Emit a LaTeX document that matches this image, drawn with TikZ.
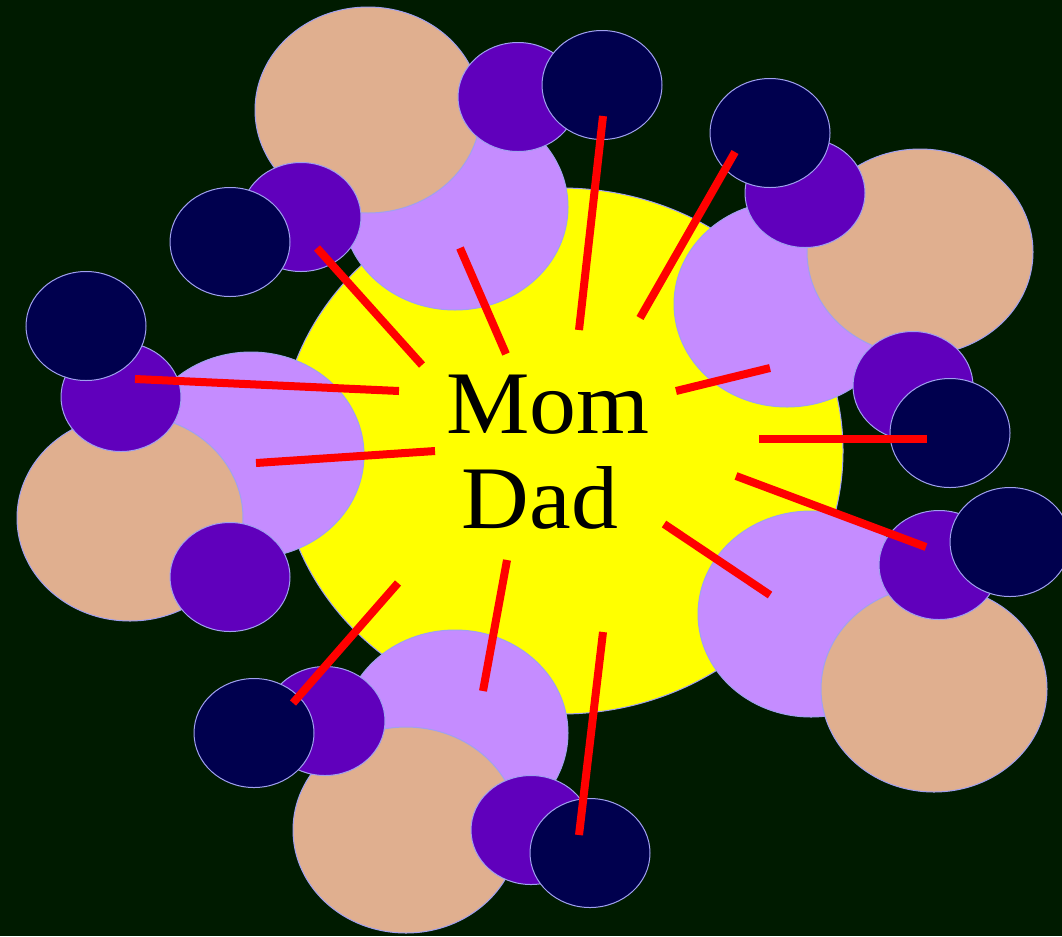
\documentclass[tikz,border=0pt]{standalone}
\usepackage{fontspec}
\setmainfont{Liberation Serif}
\definecolor{bgc}{RGB}{0,27,0}
\definecolor{sun}{RGB}{255,255,0}
\definecolor{lilac}{RGB}{197,140,255}
\definecolor{tanc}{RGB}{224,175,143}
\definecolor{purp}{RGB}{96,0,188}
\definecolor{navyc}{RGB}{0,0,78}
\definecolor{rim}{RGB}{160,160,240}
\definecolor{ray}{RGB}{255,0,0}
\tikzset{
  blob/.style={draw=rim, line width=0.75pt},
  raystroke/.style={draw=ray, line width=6pt},
  bigtxt/.style={font=\fontsize{67}{67}\selectfont, text=black, inner sep=0pt, xscale=1.05}
}
\newcommand{\bigE}[3]{\path[blob, fill=#1] (#2,#3) ellipse [x radius=113, y radius=103];}
\newcommand{\smE}[3]{\path[blob, fill=#1] (#2,#3) ellipse [x radius=60, y radius=54.5];}
\begin{document}
\begin{tikzpicture}[x=0.75pt, y=-0.75pt]
\useasboundingbox (0,0) rectangle (1062,936);
\fill[bgc] (0,0) rectangle (1062,936);
% central sun
\path[blob, fill=sun] (561,451) ellipse [x radius=282, y radius=263];
% lilac circles
\bigE{lilac}{455}{207}
\bigE{lilac}{251}{455}
\bigE{lilac}{787}{304}
\bigE{lilac}{811}{614}
\bigE{lilac}{455}{733}
% tan circles
\bigE{tanc}{368}{110}
\bigE{tanc}{130}{518}
\bigE{tanc}{920}{252}
\bigE{tanc}{934}{689}
\bigE{tanc}{406}{830}
% purple circles
\smE{purp}{518}{97}
\smE{purp}{301}{217}
\smE{purp}{121}{397}
\smE{purp}{230}{577}
\smE{purp}{805}{193}
\smE{purp}{913}{386}
\smE{purp}{939}{565}
\smE{purp}{325}{721}
\smE{purp}{531}{830}
% navy circles
\smE{navyc}{602}{85}
\smE{navyc}{230}{242}
\smE{navyc}{86}{326}
\smE{navyc}{770}{133}
\smE{navyc}{950}{433}
\smE{navyc}{1010}{542}
\smE{navyc}{254}{733}
\smE{navyc}{590}{853}
% rays
\coordinate (r1a) at (317,248);  \coordinate (r1b) at (422,365);
\coordinate (r2a) at (460,248);  \coordinate (r2b) at (506,354);
\coordinate (r3a) at (603,116);  \coordinate (r3b) at (579,330);
\coordinate (r4a) at (735,152);  \coordinate (r4b) at (640,318);
\coordinate (r5a) at (770,368);  \coordinate (r5b) at (676,391);
\coordinate (r6a) at (927,439);  \coordinate (r6b) at (759,439);
\coordinate (r7a) at (926,547);  \coordinate (r7b) at (736,476);
\coordinate (r8a) at (770,595);  \coordinate (r8b) at (664,524);
\coordinate (r9a) at (603,632);  \coordinate (r9b) at (579,835);
\coordinate (r10a) at (507,560); \coordinate (r10b) at (483,691);
\coordinate (r11a) at (398,583); \coordinate (r11b) at (293,703);
\coordinate (r12a) at (435,451); \coordinate (r12b) at (256,463);
\coordinate (r13a) at (399,391); \coordinate (r13b) at (135,379);
\foreach \i in {1,...,13} {\draw[raystroke] (r\i a) -- (r\i b);}
% text
\node[bigtxt, anchor=base] (mom) at (548,433) {Mom};
\node[bigtxt, anchor=base] (dad) at (540,528) {Dad};
\end{tikzpicture}
\end{document}
